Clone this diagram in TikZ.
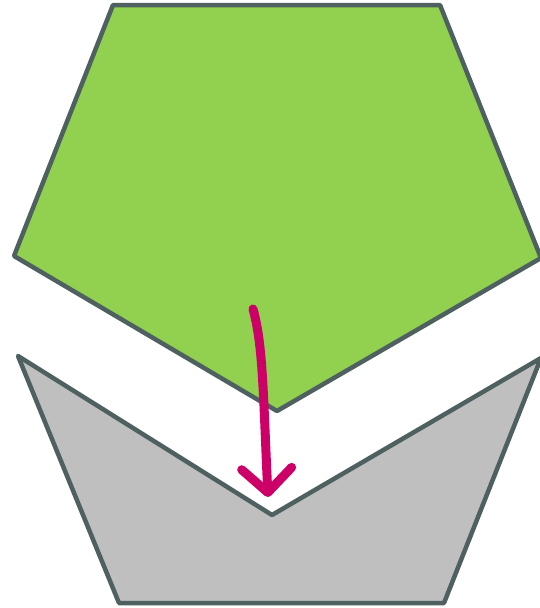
\documentclass[tikz,border=0pt]{standalone}
\usetikzlibrary{arrows.meta}
\definecolor{leafgreen}{RGB}{146,208,80}
\definecolor{potgray}{RGB}{191,191,191}
\definecolor{edgeslate}{RGB}{79,96,96}
\definecolor{pushmagenta}{RGB}{204,0,102}

\begin{document}
\begin{tikzpicture}[
    x=1pt, y=-1pt,
    piece/.style={draw=edgeslate, line width=4.5pt, line join=round},
    push/.style={-{Straight Barb[length=24pt, width=50pt, round]}, draw=pushmagenta, line width=9pt, line cap=round}
]
\useasboundingbox (0,0) rectangle (539,608);

% upper piece
\draw[piece, fill=leafgreen] (113,5) -- (440,5) -- (541,258) -- (277,411) -- (14,256) -- cycle;

% lower piece
\draw[piece, fill=potgray] (18,356) -- (272,515) -- (541,358) -- (444,603) -- (119,603) -- cycle;

% arrow
\coordinate (from) at (253,309);
\coordinate (to) at (268,497);
\draw[push] (from) .. controls (263,345) and (263,390) .. (to);
\end{tikzpicture}
\end{document}
